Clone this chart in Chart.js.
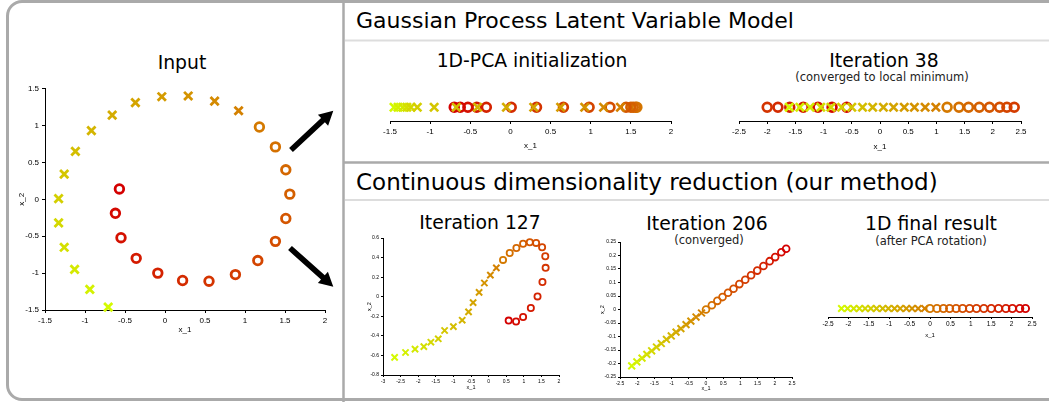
<!DOCTYPE html>
<html>
<head>
<meta charset="utf-8">
<script src="https://cdn.jsdelivr.net/npm/chart.js@4.4.0/dist/chart.umd.min.js"></script>
<style>
  body { margin: 0; width: 1049px; height: 402px; overflow: hidden; background: #fff; position: relative; font-family: 'DejaVu Sans', sans-serif; }
  canvas { position: absolute; }
  .t { position: absolute; white-space: nowrap; transform: translate(-50%, -50%); color: #000; }
  .h { position: absolute; white-space: nowrap; transform: translateY(-50%); color: #000; }
  .big { font-size: 18.8px; }
  .sub { font-size: 11.5px; color: #222; }
</style>
</head>
<body>
<svg width="1049" height="402" style="position:absolute;left:0;top:0">
  <path d="M1060 1.5 H22 A14.5 14.5 0 0 0 7.5 16 V385 A14.5 14.5 0 0 0 22 399.5 H1060" fill="none" stroke="#aaa" stroke-width="3"/>
  <line x1="343.5" y1="0" x2="343.5" y2="402" stroke="#aaa" stroke-width="2.5"/>
  <line x1="343" y1="162.5" x2="1049" y2="162.5" stroke="#aaa" stroke-width="2.5"/>
  <line x1="345" y1="40.5" x2="1049" y2="40.5" stroke="#ddd" stroke-width="2"/>
  <line x1="345" y1="200" x2="1049" y2="200" stroke="#ddd" stroke-width="2"/>
  <polygon points="289.1,147.9 321.1,118.1 317.9,114.7 333.3,110.7 328.1,125.7 324.9,122.3 292.9,152.1" fill="#000"/>
  <polygon points="291.9,245.9 324.8,275.3 327.9,271.8 333.3,286.7 317.9,283.0 321.0,279.5 288.1,250.1" fill="#000"/>
</svg>

<div class="h" style="left:356px;top:20px;font-size:22px">Gaussian Process Latent Variable Model</div>
<div class="h" style="left:356px;top:182px;font-size:23px">Continuous dimensionality reduction (our method)</div>

<div class="t big" style="left:182px;top:62px">Input</div>
<div class="t big" style="left:532px;top:60px">1D-PCA initialization</div>
<div class="t big" style="left:884px;top:60px">Iteration 38</div>
<div class="t sub" style="left:882px;top:77px">(converged to local minimum)</div>
<div class="t big" style="left:480px;top:222px">Iteration 127</div>
<div class="t big" style="left:707px;top:223px">Iteration 206</div>
<div class="t sub" style="left:709px;top:240px">(converged)</div>
<div class="t big" style="left:931px;top:223px">1D final result</div>
<div class="t sub" style="left:931px;top:241px">(after PCA rotation)</div>

<canvas id="cInput"></canvas>
<canvas id="cPca"></canvas>
<canvas id="c38"></canvas>
<canvas id="c127"></canvas>
<canvas id="c206"></canvas>
<canvas id="cFinal"></canvas>

<script>
// 30 samples: first 15 drawn as crosses, last 15 as circles
const inputCrossX = [-0.71, -0.94, -1.13, -1.26, -1.33, -1.33, -1.26, -1.12, -0.92, -0.66, -0.37, -0.04, 0.29, 0.62, 0.92];
const inputCrossY = [-1.46, -1.22, -0.95, -0.65, -0.32, 0.01, 0.34, 0.65, 0.93, 1.14, 1.31, 1.39, 1.40, 1.33, 1.20];
const inputCircleX = [1.18, 1.38, 1.51, 1.56, 1.51, 1.38, 1.16, 0.88, 0.55, 0.22, -0.09, -0.36, -0.55, -0.62, -0.57];
const inputCircleY = [0.98, 0.71, 0.40, 0.07, -0.26, -0.57, -0.83, -1.02, -1.11, -1.10, -1.00, -0.80, -0.52, -0.19, 0.14];

const pcaCrossX = [-1.45, -1.40, -1.34, -1.29, -1.24, -1.16, -0.95, -0.675, -0.41, -0.05, 0.29, 0.625, 0.925, 1.16, 1.37];
const pcaCircleX = [1.575, 1.56, 1.53, 1.50, 1.44, 1.24, 0.98, 0.66, 0.325, 0.01, -0.30, -0.42, -0.53, -0.625, -0.70];

const it38CrossX = [-1.61, -1.42, -1.24, -1.05, -0.87, -0.68, -0.50, -0.31, -0.13, 0.06, 0.24, 0.43, 0.61, 0.80, 0.99];
const it38CircleX = [1.19, 1.40, 1.57, 1.76, 1.94, 2.12, 2.25, 2.38, -2.00, -1.81, -1.60, -1.36, -1.10, -0.85, -0.59];

const it127CrossX = [-2.67, -2.36, -2.09, -1.84, -1.64, -1.43, -1.25, -1.00, -0.75, -0.57, -0.44, -0.27, -0.12, 0.05, 0.22];
const it127CrossY = [-0.62, -0.57, -0.535, -0.51, -0.465, -0.43, -0.345, -0.305, -0.24, -0.155, -0.06, 0.045, 0.14, 0.22, 0.295];
const it127CircleX = [0.41, 0.60, 0.79, 0.98, 1.17, 1.35, 1.52, 1.61, 1.62, 1.53, 1.39, 1.20, 0.98, 0.78, 0.57];
const it127CircleY = [0.376, 0.447, 0.498, 0.542, 0.556, 0.55, 0.505, 0.414, 0.295, 0.15, 0.003, -0.115, -0.207, -0.254, -0.244];

const it206CrossX = [-2.16, -2.01, -1.86, -1.72, -1.58, -1.44, -1.30, -1.15, -1.01, -0.87, -0.73, -0.58, -0.44, -0.29, -0.13];
const it206CrossY = [-0.209, -0.194, -0.180, -0.166, -0.153, -0.139, -0.126, -0.111, -0.098, -0.084, -0.071, -0.056, -0.043, -0.028, -0.013];
const it206CircleX = [0.00, 0.17, 0.33, 0.48, 0.64, 0.80, 0.97, 1.14, 1.31, 1.49, 1.67, 1.85, 2.01, 2.19, 2.33];
const it206CircleY = [0.000, 0.016, 0.032, 0.046, 0.062, 0.077, 0.094, 0.110, 0.127, 0.144, 0.161, 0.179, 0.194, 0.212, 0.225];

const finalCrossX = [-2.17, -2.02, -1.87, -1.73, -1.59, -1.45, -1.31, -1.16, -1.02, -0.87, -0.73, -0.58, -0.44, -0.29, -0.13];
const finalCircleX = [0.00, 0.17, 0.33, 0.48, 0.64, 0.80, 0.97, 1.14, 1.32, 1.50, 1.68, 1.86, 2.02, 2.20, 2.34];

const inputXTicks = [-1.5, -1, -0.5, 0, 0.5, 1, 1.5, 2];
const inputYTicks = [-1.5, -1, -0.5, 0, 0.5, 1, 1.5];
const pcaXTicks = [-1.5, -1, -0.5, 0, 0.5, 1, 1.5, 2];
const it38XTicks = [-2.5, -2, -1.5, -1, -0.5, 0, 0.5, 1, 1.5, 2, 2.5];
const it127XTicks = [-3, -2.5, -2, -1.5, -1, -0.5, 0, 0.5, 1, 1.5, 2];
const it127YTicks = [-0.8, -0.6, -0.4, -0.2, 0, 0.2, 0.4, 0.6];
const it206XTicks = [-2.5, -2, -1.5, -1, -0.5, 0, 0.5, 1, 1.5, 2, 2.5];
const it206YTicks = [-0.25, -0.2, -0.15, -0.1, -0.05, 0, 0.05, 0.1, 0.15, 0.2, 0.25];
const finalXTicks = [-2.5, -2, -1.5, -1, -0.5, 0, 0.5, 1, 1.5, 2, 2.5];

// yellow -> orange -> red along the sequence
const shade = i => `rgb(212,${Math.round(250 * (1 - i / 29))},0)`;
const crossColors = inputCrossX.map((_, i) => shade(i));
const circleColors = inputCircleX.map((_, i) => shade(i + 15));

function pts(xs, ys) {
  return xs.map((x, i) => ({ x: x, y: ys ? ys[i] : 0 }));
}

function sets(crossPts, circlePts, m) {
  return [
    { data: crossPts, pointStyle: 'crossRot', pointRadius: m.cr, pointBorderWidth: m.cw,
      pointBorderColor: crossColors, pointBackgroundColor: crossColors, showLine: false, clip: false },
    { data: circlePts, pointStyle: 'circle', pointRadius: m.or, pointBorderWidth: m.ow,
      pointBorderColor: circleColors, pointBackgroundColor: 'rgba(0,0,0,0)', showLine: false, clip: false }
  ];
}

function axis(ticks, o, title, isX, size) {
  return {
    type: 'linear', display: true, min: ticks[0], max: ticks[ticks.length - 1],
    grid: { drawOnChartArea: false, drawTicks: true, tickLength: o.tl, color: '#000', lineWidth: 1 },
    border: { display: true, color: '#000', width: 1 },
    ticks: { font: { family: 'Liberation Sans', size: o.fs }, color: '#000', padding: o.pad,
      autoSkip: false, maxRotation: 0, callback: v => String(v) },
    title: { display: true, text: title, font: { family: 'Liberation Sans', size: o.afs }, color: '#000', padding: 0 },
    afterBuildTicks: s => { s.ticks = ticks.map(v => ({ value: v })); },
    afterFit: s => {
      if (isX) s.height = size; else s.width = size;
      s.paddingLeft = 0; s.paddingRight = 0; s.paddingTop = 0; s.paddingBottom = 0;
    }
  };
}

// box / area: [left, top, right, bottom] in page pixels
function makePlot(id, box, area, xTicks, yTicks, o, datasets) {
  const cv = document.getElementById(id);
  cv.style.left = box[0] + 'px';
  cv.style.top = box[1] + 'px';
  cv.width = Math.round(box[2] - box[0]);
  cv.height = Math.round(box[3] - box[1]);
  const scales = { x: axis(xTicks, o, 'x_1', true, box[3] - area[3]) };
  if (yTicks) scales.y = axis(yTicks, o, 'x_2', false, area[0] - box[0]);
  else scales.y = { type: 'linear', display: false, min: -1, max: 1 };
  new Chart(cv, {
    type: 'scatter',
    data: { datasets: datasets },
    options: {
      responsive: false, animation: false, devicePixelRatio: 1,
      layout: { padding: { left: yTicks ? 0 : area[0] - box[0], top: area[1] - box[1], right: box[2] - area[2], bottom: 0 } },
      plugins: { legend: { display: false }, tooltip: { enabled: false } },
      scales: scales
    }
  });
}

const bigText = { fs: 8, afs: 8, tl: 3, pad: 3 };

makePlot('cInput', [17, 80, 335, 335], [45, 88, 325, 310], inputXTicks, inputYTicks, bigText,
  sets(pts(inputCrossX, inputCrossY), pts(inputCircleX, inputCircleY), { cr: 5.8, cw: 2.8, or: 4.3, ow: 2.8 }));

makePlot('cPca', [380, 85, 680, 151], [390, 91, 671, 121], pcaXTicks, null, bigText,
  sets(pts(pcaCrossX), pts(pcaCircleX), { cr: 5.8, cw: 2.7, or: 4.4, ow: 2.7 }));

makePlot('c38', [730, 85, 1040, 152], [739, 91, 1021, 121], it38XTicks, null, bigText,
  sets(pts(it38CrossX), pts(it38CircleX), { cr: 5.8, cw: 2.7, or: 4.4, ow: 2.7 }));

makePlot('c127', [366, 230, 570, 391], [383, 238, 559, 375], it127XTicks, it127YTicks,
  { fs: 5, afs: 5.5, tl: 2, pad: 2 },
  sets(pts(it127CrossX, it127CrossY), pts(it127CircleX, it127CircleY), { cr: 4.4, cw: 2, or: 3.1, ow: 1.8 }));

makePlot('c206', [599, 235, 800, 392], [620, 242, 792, 377], it206XTicks, it206YTicks,
  { fs: 5, afs: 5.5, tl: 2, pad: 2 },
  sets(pts(it206CrossX, it206CrossY), pts(it206CircleX, it206CircleY), { cr: 4.8, cw: 2, or: 3.4, ow: 1.8 }));

makePlot('cFinal', [820, 290, 1045, 339], [828, 300, 1032, 317], finalXTicks, null,
  { fs: 6.5, afs: 6, tl: 2, pad: 1.5 },
  sets(pts(finalCrossX), pts(finalCircleX), { cr: 4.6, cw: 2, or: 3.6, ow: 1.9 }));
</script>
</body>
</html>
